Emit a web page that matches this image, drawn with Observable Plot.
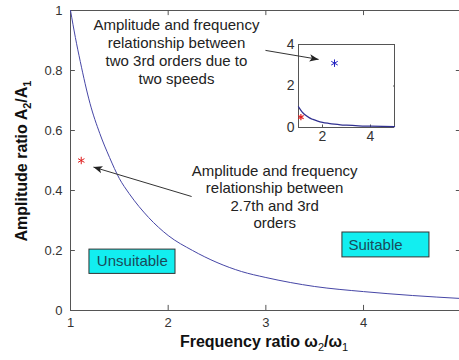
<!DOCTYPE html>
<html>
<head>
<meta charset="utf-8">
<script src="https://cdn.jsdelivr.net/npm/d3@7"></script>
<script src="https://cdn.jsdelivr.net/npm/@observablehq/plot@0.6"></script>
<style>
  html, body { margin: 0; padding: 0; background: #fff; }
  #wrap { position: relative; width: 459px; height: 360px; overflow: hidden; font-family: "Liberation Sans", Arial, sans-serif; }
  #wrap > svg { position: absolute; }
</style>
</head>
<body>
<div id="wrap"></div>
<script>
// ---- data ----
const curveX = [1, 1.05, 1.1, 1.2, 1.3, 1.4, 1.5, 1.6, 1.8, 2, 2.25, 2.5, 2.75, 3, 3.5, 4, 4.5, 5];
const curveY = [1, 0.91, 0.83, 0.69, 0.59, 0.51, 0.44, 0.39, 0.31, 0.25, 0.2, 0.16, 0.13, 0.11, 0.08, 0.063, 0.05, 0.04];
const pointX = [1.11];           // red star, main chart
const pointY = [0.5];
const insetRedX = [1.1];
const insetRedY = [0.5];
const insetBlueX = [2.5];
const insetBlueY = [3.1];
const xTicks = [1, 2, 3, 4];
const yTicks = [0, 0.2, 0.4, 0.6, 0.8, 1];
const insetXTicks = [2, 4];
const insetYTicks = [0, 2, 4];
const note1 = "Amplitude and frequency\nrelationship between\ntwo 3rd orders due to\ntwo speeds";
const note2 = "Amplitude and frequency\nrelationship between\n2.7th and 3rd\norders";
const boxLabels = ["Unsuitable", "Suitable"];

const curve = curveX.map((x, i) => ({x, y: curveY[i]}));
const mainPts = pointX.map((x, i) => ({x, y: pointY[i]}));
const insetRed = insetRedX.map((x, i) => ({x, y: insetRedY[i]}));
const insetBlue = insetBlueX.map((x, i) => ({x, y: insetBlueY[i]}));

// annotation anchors (data units)
const boxes = [
  {label: boxLabels[0], x1: 1.194, x2: 2.075, y1: 0.122, y2: 0.203, tx: 1.27, ty: 0.163},
  {label: boxLabels[1], x1: 3.784, x2: 4.675, y1: 0.177, y2: 0.26, tx: 3.845, ty: 0.218}
];
const arrows = [
  {x1: 2.996, y1: 0.867, x2: 3.54, y2: 0.837},
  {x1: 2.24, y1: 0.380, x2: 1.235, y2: 0.478}
];

const axisColor = "#555";
const textColor = "#333";
const font = '"Liberation Sans", Arial, sans-serif';
const fmt = d => String(d);

function headMarker(color, context) {
  const m = d3.create("svg:marker")
    .attr("viewBox", "0 -5 10 10")
    .attr("refX", 10).attr("refY", 0)
    .attr("markerWidth", 9).attr("markerHeight", 9)
    .attr("markerUnits", "userSpaceOnUse")
    .attr("orient", "auto");
  m.append("path").attr("d", "M0,-4L10,0L0,4L2.5,0Z").attr("fill", "#222").attr("stroke", "none");
  return m.node();
}

const main = Plot.plot({
  width: 459,
  height: 360,
  marginLeft: 70, marginRight: 0, marginTop: 10, marginBottom: 50,
  x: {domain: [1, 5], range: [70, 460.7]},
  y: {domain: [0, 1], range: [310, 10]},
  style: {background: "transparent", fontFamily: font, fontSize: "13px", color: textColor, overflow: "hidden"},
  marks: [
    // frame lines
    Plot.ruleX([1], {y1: 0, y2: 1, stroke: axisColor}),
    Plot.ruleY([0, 1], {x1: 1, x2: 5, stroke: axisColor}),
    // inward ticks
    Plot.ruleX(xTicks.slice(1), {y1: 0, y2: 0.017, stroke: axisColor}),
    Plot.ruleX(xTicks.slice(1), {y1: 1, y2: 0.983, stroke: axisColor}),
    Plot.ruleY(yTicks.slice(1, -1), {x1: 1, x2: 1.05, stroke: axisColor}),
    Plot.ruleY(yTicks.slice(1, -1), {x1: 4.95, x2: 5, stroke: axisColor}),
    Plot.axisX({ticks: xTicks, tickSize: 0, tickPadding: 7, label: null, fontSize: 13, fill: textColor, tickFormat: fmt}),
    Plot.axisY({ticks: yTicks, tickSize: 0, tickPadding: 8, label: null, fontSize: 13, fill: textColor, tickFormat: fmt}),
    // curve
    Plot.line(curve, {x: "x", y: "y", stroke: "#4646a6", strokeWidth: 1, curve: "monotone-x"}),
    // star
    Plot.dot(mainPts, {x: "x", y: "y", symbol: "asterisk", r: 3.5, stroke: "#e02020", strokeWidth: 1}),
    // boxes
    Plot.rect(boxes, {x1: "x1", x2: "x2", y1: "y1", y2: "y2", fill: "#12eef0", stroke: "#333", strokeWidth: 1}),
    Plot.text(boxes, {x: "tx", y: "ty", text: "label", textAnchor: "start", fontSize: 15, fill: "#1a4a5a"}),
    // notes
    Plot.text([note1], {x: 2.085, y: 0.865, text: d => d, fontSize: 15, lineHeight: 1.2, fill: "#222"}),
    Plot.text([note2], {x: 3.09, y: 0.38, text: d => d, fontSize: 15, lineHeight: 1.16, fill: "#222"}),
    // arrows
    Plot.link(arrows, {x1: "x1", y1: "y1", x2: "x2", y2: "y2", stroke: "#333", strokeWidth: 1, markerEnd: headMarker})
  ]
});
main.style.left = "0px";
main.style.top = "0px";
main.style.zIndex = 2;

// axis titles with subscripts
const svg = d3.select(main);
const yl = svg.append("text")
  .attr("transform", "translate(27,161) rotate(-90)")
  .attr("text-anchor", "middle")
  .attr("font-family", font).attr("font-size", 16).attr("font-weight", "bold").attr("fill", "#111");
yl.append("tspan").text("Amplitude ratio A");
yl.append("tspan").text("2").attr("font-size", 11).attr("dy", 4);
yl.append("tspan").text("/A").attr("dy", -4);
yl.append("tspan").text("1").attr("font-size", 11).attr("dy", 4);

const xl = svg.append("text")
  .attr("x", 264).attr("y", 347)
  .attr("text-anchor", "middle")
  .attr("font-family", font).attr("font-size", 16).attr("font-weight", "bold").attr("fill", "#111");
xl.append("tspan").text("Frequency ratio ω");
xl.append("tspan").text("2").attr("font-size", 11).attr("dy", 4).attr("font-weight", "normal");
xl.append("tspan").text("/ω").attr("dy", -4);
xl.append("tspan").text("1").attr("font-size", 11).attr("dy", 4).attr("font-weight", "normal");

const inset = Plot.plot({
  width: 125,
  height: 120,
  marginLeft: 23, marginRight: 6, marginTop: 14, marginBottom: 23,
  x: {domain: [1, 5], range: [23, 119]},
  y: {domain: [0, 4], range: [97, 14]},
  style: {background: "white", fontFamily: font, fontSize: "14px", color: textColor},
  marks: [
    Plot.ruleX([1, 5], {y1: 0, y2: 4, stroke: axisColor}),
    Plot.ruleY([0, 4], {x1: 1, x2: 5, stroke: axisColor}),
    Plot.ruleY([2], {x1: 4.96, x2: 5, stroke: axisColor}),
    Plot.ruleX(insetXTicks, {y1: 0, y2: 0.12, stroke: axisColor}),
    Plot.axisX({ticks: insetXTicks, tickSize: 0, tickPadding: 4, label: null, fontSize: 14, fill: textColor, tickFormat: fmt}),
    Plot.axisY({ticks: insetYTicks, tickSize: 0, tickPadding: 4, label: null, fontSize: 14, fill: textColor, tickFormat: fmt}),
    Plot.line(curve, {x: "x", y: "y", stroke: "#303090", strokeWidth: 1.3, curve: "monotone-x"}),
    Plot.dot(insetRed, {x: "x", y: "y", symbol: "asterisk", r: 3, stroke: "#e02020", strokeWidth: 1.2}),
    Plot.dot(insetBlue, {x: "x", y: "y", symbol: "asterisk", r: 3.5, stroke: "#2020c0", strokeWidth: 1})
  ]
});
inset.style.left = "275px";
inset.style.top = "30px";
inset.style.zIndex = 1;

const wrap = document.getElementById("wrap");
wrap.appendChild(inset);
wrap.appendChild(main);
</script>
</body>
</html>
